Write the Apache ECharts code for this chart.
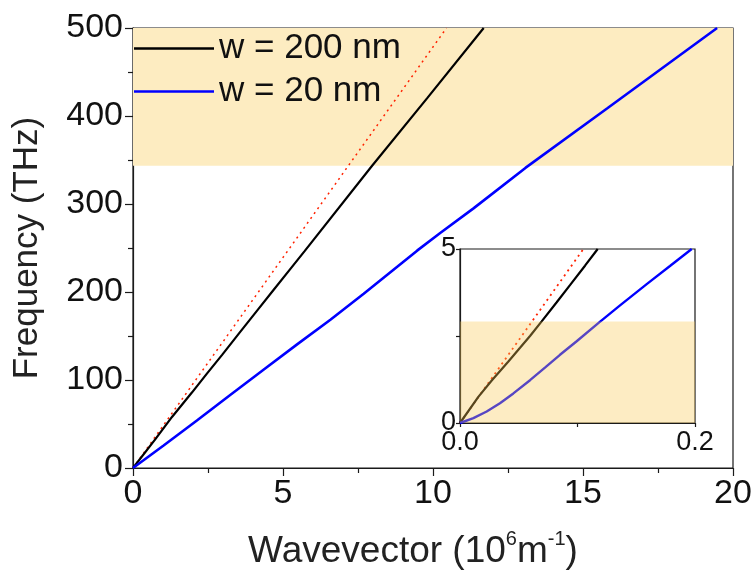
<!DOCTYPE html>
<html>
<head>
<meta charset="utf-8">
<script src="https://cdn.jsdelivr.net/npm/echarts@6/dist/echarts.min.js"></script>
<style>
  html, body { margin: 0; padding: 0; background: #fff; }
  #chart { width: 755px; height: 579px; }
</style>
</head>
<body>
<div id="chart"></div>
<script>
// Dispersion curves: frequency (THz) against wavevector (10^6 m^-1)
const k200 = [0, 0.74, 1.30, 1.97, 2.47, 2.97, 3.58, 4.13, 4.69, 5.24, 5.72, 7.97, 9.8, 11.69];
const f200 = [0, 32.5, 58, 86, 107.5, 128.5, 155, 178.5, 202.5, 226, 246.5, 343.5, 420, 500];
const k20 = [0, 1.02, 2.13, 3.24, 4.35, 5.47, 6.58, 7.69, 9.47, 10.24, 11.35, 13.08, 15.8, 19.47];
const f20 = [0, 25.5, 54, 83, 111.7, 140.5, 168.5, 198, 247, 267, 295, 341, 408.5, 500];
const kLight = [0, 10.45];
const fLight = [0, 500];
const bandMain = [343.5, 500];

// Low-wavevector close-up
const k200In = [0, 0.0156, 0.027, 0.041, 0.0511, 0.0596, 0.0695, 0.0823, 0.0936, 0.1064, 0.1172];
const f200In = [0, 0.75, 1.22, 1.76, 2.16, 2.50, 2.92, 3.47, 3.96, 4.52, 5.0];
const k20In = [0, 0.0114, 0.0227, 0.034, 0.0454, 0.0596, 0.0723, 0.0851, 0.0993, 0.1177, 0.1362, 0.1589, 0.1787, 0.1972];
const f20In = [0, 0.14, 0.33, 0.57, 0.85, 1.23, 1.59, 1.96, 2.35, 2.87, 3.38, 3.99, 4.51, 5.0];
const kLightIn = [0, 0.105];
const fLightIn = [0, 5];
const bandInset = [0, 2.92];

const xTicksMain = [0, 5, 10, 15, 20];
const yTicksMain = [0, 100, 200, 300, 400, 500];
const xTicksInset = [0.0, 0.2];
const yTicksInset = [0, 5];

const pairs = (xs, ys) => xs.map((x, i) => [x, ys[i]]);

const FONT = '"Liberation Sans", Arial, Helvetica, sans-serif';
const AX = '#1a1a1a';
const BLUE = '#0000ff';
const RED = '#ff2200';
const LEGEND_ICON = 'path://M0,0 L80,0 L80,2.4 L0,2.4 Z';

const chart = echarts.init(document.getElementById('chart'), null, { renderer: 'canvas' });

const option = {
  animation: false,
  backgroundColor: '#ffffff',
  textStyle: { fontFamily: FONT, color: AX },
  grid: [
    { left: 133, right: 22, top: 28, bottom: 111, show: true, borderColor: AX, borderWidth: 1.2 },
    { left: 460, top: 249, width: 235, height: 174, show: true, borderColor: AX, borderWidth: 1.2 }
  ],
  legend: [
    {
      data: [{ name: 'w = 200 nm', icon: LEGEND_ICON }], left: 134, top: 31, padding: 0,
      itemWidth: 80, itemHeight: 2.4, selectedMode: false,
      textStyle: { fontFamily: FONT, fontSize: 35, color: '#111' }
    },
    {
      data: [{ name: 'w = 20 nm', icon: LEGEND_ICON }], left: 134, top: 74, padding: 0,
      itemWidth: 80, itemHeight: 2.6, selectedMode: false,
      textStyle: { fontFamily: FONT, fontSize: 35, color: '#111' }
    }
  ],
  xAxis: [
    {
      gridIndex: 0, type: 'value', min: 0, max: 20, interval: 5,
      name: '{a|Wavevector (10}{s|6}{a|m}{s|-1}{a|)}',
      nameLocation: 'middle', nameGap: 60,
      nameTextStyle: {
        padding: [0, 40, 0, 0],
        rich: {
          a: { fontFamily: FONT, fontSize: 37, color: '#222', lineHeight: 42, verticalAlign: 'bottom' },
          s: { fontFamily: FONT, fontSize: 20, color: '#222', lineHeight: 42, verticalAlign: 'top', padding: [1, 0, 0, 0] }
        }
      },
      axisLine: { show: true, onZero: false, lineStyle: { color: AX, width: 1.2 } },
      axisTick: { show: true, inside: false, length: 8, lineStyle: { color: AX, width: 1.2 } },
      minorTick: { show: true, splitNumber: 2, length: 5, lineStyle: { color: AX, width: 1.2 } },
      splitLine: { show: false },
      axisLabel: {
        margin: 9, fontFamily: FONT, fontSize: 34, color: '#111',
        formatter: v => (xTicksMain.includes(v) ? String(v) : '')
      }
    },
    {
      gridIndex: 1, type: 'value', min: 0, max: 0.2, interval: 0.1,
      axisLine: { show: true, onZero: false, lineStyle: { color: AX, width: 1.2 } },
      axisTick: { show: true, inside: false, length: 4, lineStyle: { color: AX, width: 1.2 } },
      splitLine: { show: false },
      axisLabel: {
        margin: 6, fontFamily: FONT, fontSize: 27, color: '#111', showMaxLabel: true,
        formatter: v => {
          const hit = xTicksInset.find(t => Math.abs(t - v) < 1e-9);
          return hit === undefined ? '' : hit.toFixed(1);
        }
      }
    }
  ],
  yAxis: [
    {
      gridIndex: 0, type: 'value', min: 0, max: 500, interval: 100,
      name: 'Frequency (THz)', nameLocation: 'middle', nameGap: 88, nameRotate: 90,
      nameTextStyle: { fontFamily: FONT, fontSize: 35, color: '#222' },
      axisLine: { show: true, onZero: false, lineStyle: { color: AX, width: 1.2 } },
      axisTick: { show: true, inside: false, length: 8, lineStyle: { color: AX, width: 1.2 } },
      minorTick: { show: true, splitNumber: 2, length: 5, lineStyle: { color: AX, width: 1.2 } },
      splitLine: { show: false },
      axisLabel: {
        margin: 10, fontFamily: FONT, fontSize: 34, color: '#111',
        formatter: v => (yTicksMain.includes(v) ? String(v) : '')
      }
    },
    {
      gridIndex: 1, type: 'value', min: 0, max: 5, interval: 2.5,
      axisLine: { show: true, onZero: false, lineStyle: { color: AX, width: 1.2 } },
      axisTick: { show: true, inside: false, length: 4, lineStyle: { color: AX, width: 1.2 } },
      splitLine: { show: false },
      axisLabel: {
        margin: 4, fontFamily: FONT, fontSize: 27, color: '#111',
        formatter: v => (yTicksInset.includes(v) ? String(v) : '')
      }
    }
  ],
  series: [
    // shaded frequency window, behind the main curves
    {
      type: 'line', xAxisIndex: 0, yAxisIndex: 0, data: [], z: 1, silent: true,
      markArea: {
        silent: true, z: 1,
        itemStyle: { color: '#fdecc1' },
        data: [[{ xAxis: 0, yAxis: bandMain[0] }, { xAxis: 20, yAxis: bandMain[1] }]]
      }
    },
    {
      name: 'light line', type: 'line', xAxisIndex: 0, yAxisIndex: 0, z: 3,
      data: pairs(kLight, fLight), symbol: 'none',
      lineStyle: { color: RED, width: 1.5, type: [2, 4] }
    },
    {
      name: 'w = 200 nm', type: 'line', xAxisIndex: 0, yAxisIndex: 0, z: 4,
      data: pairs(k200, f200), symbol: 'none',
      lineStyle: { color: '#000000', width: 2.2 }, itemStyle: { color: '#000000' }
    },
    {
      name: 'w = 20 nm', type: 'line', xAxisIndex: 0, yAxisIndex: 0, z: 4,
      data: pairs(k20, f20), symbol: 'none',
      lineStyle: { color: BLUE, width: 2.6 }, itemStyle: { color: BLUE }
    },
    // close-up curves
    {
      type: 'line', xAxisIndex: 1, yAxisIndex: 1, z: 6,
      data: pairs(kLightIn, fLightIn), symbol: 'none',
      lineStyle: { color: RED, width: 1.8, type: [2, 4] }
    },
    {
      type: 'line', xAxisIndex: 1, yAxisIndex: 1, z: 6,
      data: pairs(k200In, f200In), symbol: 'none',
      lineStyle: { color: '#000000', width: 2.2 }
    },
    {
      type: 'line', xAxisIndex: 1, yAxisIndex: 1, z: 6,
      data: pairs(k20In, f20In), symbol: 'none',
      lineStyle: { color: BLUE, width: 2.4 }
    },
    // translucent window laid over the close-up curves
    {
      type: 'line', xAxisIndex: 1, yAxisIndex: 1, data: [], z: 12, silent: true,
      markArea: {
        silent: true, z: 12,
        itemStyle: { color: 'rgba(249, 201, 84, 0.35)' },
        data: [[{ xAxis: 0, yAxis: bandInset[0] }, { xAxis: 0.2, yAxis: bandInset[1] }]]
      }
    }
  ]
};

chart.setOption(option);
</script>
</body>
</html>
